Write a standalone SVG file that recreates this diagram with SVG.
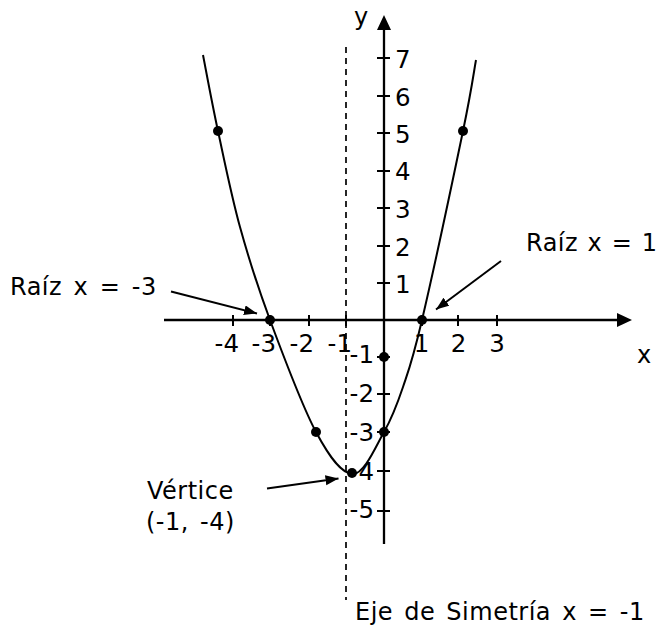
<svg xmlns="http://www.w3.org/2000/svg" width="662" height="630" viewBox="0 0 662 630">
<style>
text{font-family:"DejaVu Sans","Verdana",sans-serif;font-size:24px;fill:#000}
.lbl{letter-spacing:0.5px}
.tick{font-size:24.5px}
.ax{stroke:#000;stroke-width:2.3;fill:none}
.tk{stroke:#000;stroke-width:2;fill:none}
.crv{stroke:#000;stroke-width:2;fill:none}
.dash{stroke:#000;stroke-width:1.7;stroke-dasharray:6 5;fill:none}
.conn{stroke:#000;stroke-width:2;fill:none;marker-end:url(#ah)}
.dot{fill:#000}
</style>
<defs>
<marker id="ah" markerUnits="userSpaceOnUse" markerWidth="14" markerHeight="12" refX="13" refY="5" orient="auto">
<path d="M0,0 L13,5 L0,10 z" fill="#000"/>
</marker>
</defs>
<rect width="662" height="630" fill="#fff"/>

<g id="symmetry-axis">
<line class="dash" x1="346" y1="47" x2="346" y2="600"/>
</g>

<g id="axes">
<line class="ax" x1="164" y1="320" x2="619" y2="320"/>
<polygon points="632,320 617,313 617,327" fill="#000"/>
<line class="ax" x1="384" y1="28" x2="384" y2="544"/>
<polygon points="384,15 377,30 391,30" fill="#000"/>
<text x="637" y="363">x</text>
<text x="354" y="25">y</text>
</g>

<g id="ticks">
<path class="tk" d="M233,315V326 M270,315V326 M309,315V326 M346,315V326 M422,315V326 M458,315V326 M497,315V326"/>
<path class="tk" d="M377,58H390 M377,96H390 M377,133H390 M377,171H390 M377,208H390 M377,246H390 M377,283H390 M377,357H390 M377,394H390 M377,432H390 M377,471H390 M377,511H390"/>
</g>

<g id="tick-labels">
<text class="tick" x="395" y="67.5">7</text>
<text class="tick" x="395" y="105.5">6</text>
<text class="tick" x="395" y="142.5">5</text>
<text class="tick" x="395" y="179.5">4</text>
<text class="tick" x="395" y="217.5">3</text>
<text class="tick" x="395" y="255.5">2</text>
<text class="tick" x="395" y="292.5">1</text>
<g text-anchor="end">
<text class="tick" x="374" y="363">-1</text>
<text class="tick" x="374" y="402">-2</text>
<text class="tick" x="374" y="441">-3</text>
<text class="tick" x="374" y="480">-4</text>
<text class="tick" x="374" y="518">-5</text>
<text class="tick" x="239" y="352">-4</text>
<text class="tick" x="276" y="352">-3</text>
<text class="tick" x="314" y="352">-2</text>
<text class="tick" x="352" y="352">-1</text>
</g>
<g text-anchor="middle">
<text class="tick" x="421.5" y="352">1</text>
<text class="tick" x="458.5" y="352">2</text>
<text class="tick" x="497" y="352">3</text>
</g>
</g>

<g id="parabola">
<path class="crv" d="M203,55 C205.5,67.7 211.8,102.3 218,131 C224.2,159.7 231.3,195.5 240,227 C248.7,258.5 257.3,285.8 270,320 C282.7,354.2 302.2,406.3 316,432 C329.8,457.7 341.7,474 353,474 C364.3,474 375.7,446.5 384,432 C392.3,417.5 396.7,405.7 403,387 C409.3,368.3 412,362.7 422,320 C432,277.3 454,174.3 463,131 C472,87.7 473.8,71.8 476,60"/>
</g>

<g id="points">
<circle class="dot" cx="218" cy="131" r="5"/>
<circle class="dot" cx="270" cy="320" r="5"/>
<circle class="dot" cx="316" cy="432" r="5"/>
<circle class="dot" cx="352" cy="473" r="5"/>
<circle class="dot" cx="384" cy="432" r="5"/>
<circle class="dot" cx="384" cy="357" r="5"/>
<circle class="dot" cx="422" cy="320" r="5"/>
<circle class="dot" cx="463" cy="131" r="5"/>
</g>

<g id="connectors">
<line class="conn" x1="171" y1="291.5" x2="257" y2="313.5"/>
<line class="conn" x1="501" y1="261" x2="436" y2="309.5"/>
<line class="conn" x1="267" y1="488.5" x2="338.5" y2="478.5"/>
</g>

<g id="label-root-left">
<text class="lbl" x="10" y="295" word-spacing="3.3">Raíz x = -3</text>
</g>
<g id="label-root-right">
<text class="lbl" x="526" y="251" word-spacing="1.3">Raíz x = 1</text>
</g>
<g id="label-vertex">
<text class="lbl" x="147" y="499">Vértice</text>
<text class="lbl" x="146" y="530" word-spacing="3">(-1, -4)</text>
</g>
<g id="label-axis">
<text class="lbl" x="355" y="620" word-spacing="3">Eje de Simetría x = -1</text>
</g>
</svg>
